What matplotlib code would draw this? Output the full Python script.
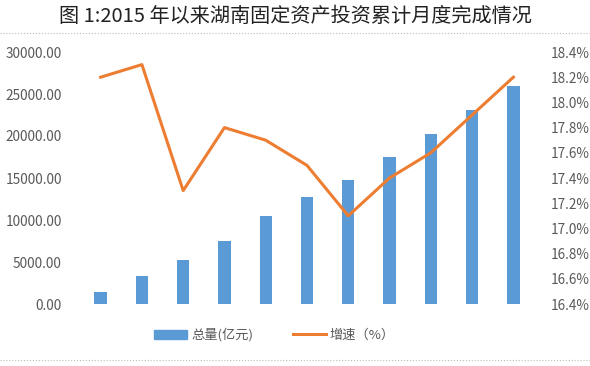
import matplotlib
matplotlib.use('Agg')
import matplotlib.pyplot as plt
from matplotlib.lines import Line2D
from matplotlib.patches import Patch
from matplotlib.ticker import FuncFormatter

plt.rcParams['font.family'] = ['Noto Sans CJK SC', 'DejaVu Sans']

# cumulative investment by month, 2015 (Feb - Dec)
months = ['2月', '3月', '4月', '5月', '6月', '7月', '8月', '9月', '10月', '11月', '12月']
total = [1400, 3300, 5280, 7450, 10500, 12700, 14800, 17550, 20250, 23100, 25950]
growth = [18.2, 18.3, 17.3, 17.8, 17.7, 17.5, 17.1, 17.4, 17.6, 17.9, 18.2]

bar_color = '#5B9BD5'
line_color = '#ED7D31'
label_color = '#595959'

fig = plt.figure(figsize=(5.9, 3.66), dpi=100)
ax = fig.add_axes([80 / 590, 62 / 366, 454 / 590, 252 / 366])
x = range(len(months))
ax.bar(x, total, width=0.3, color=bar_color, zorder=2)
ax.set_xlim(-0.5, len(months) - 0.5)
ax.set_ylim(0, 30000)
ax.set_yticks(range(0, 30001, 5000))
ax.yaxis.set_major_formatter(FuncFormatter(lambda v, p: '%.2f' % v))
ax.set_xticks([])

ax2 = ax.twinx()
ax2.plot(x, growth, color=line_color, lw=2.2, zorder=3)
ax2.set_ylim(16.4, 18.4)
ax2.set_yticks([16.4 + 0.2 * i for i in range(11)])
ax2.yaxis.set_major_formatter(FuncFormatter(lambda v, p: '%.1f%%' % v))

for a in (ax, ax2):
    for s in a.spines.values():
        s.set_visible(False)
    a.tick_params(length=0, labelsize=9.8, labelcolor=label_color)
ax.tick_params(axis='y', pad=13)
ax2.tick_params(axis='y', pad=12)

fig.text(0.5, 1 - 16 / 366, '图 1:2015 年以来湖南固定资产投资累计月度完成情况',
         ha='center', va='center', fontsize=14.5, color='#222222')

# dotted frame lines
fig.add_artist(Line2D([0, 1], [1 - 33 / 366] * 2, color='#bbbbbb', lw=0.8, ls=':'))
fig.add_artist(Line2D([0, 1], [1 - 360 / 366] * 2, color='#bbbbbb', lw=0.8, ls=':'))

handles = [Patch(color=bar_color), Line2D([], [], color=line_color, lw=2.2)]
fig.legend(handles, ['总量(亿元)', '增速（%）'], loc='center',
           bbox_to_anchor=(0.465, 1 - 335 / 366), ncol=2, frameon=False,
           fontsize=9.5, labelcolor=label_color, handlelength=2.5,
           handletextpad=0.3, columnspacing=3)

fig.savefig('out.png', dpi=100)
